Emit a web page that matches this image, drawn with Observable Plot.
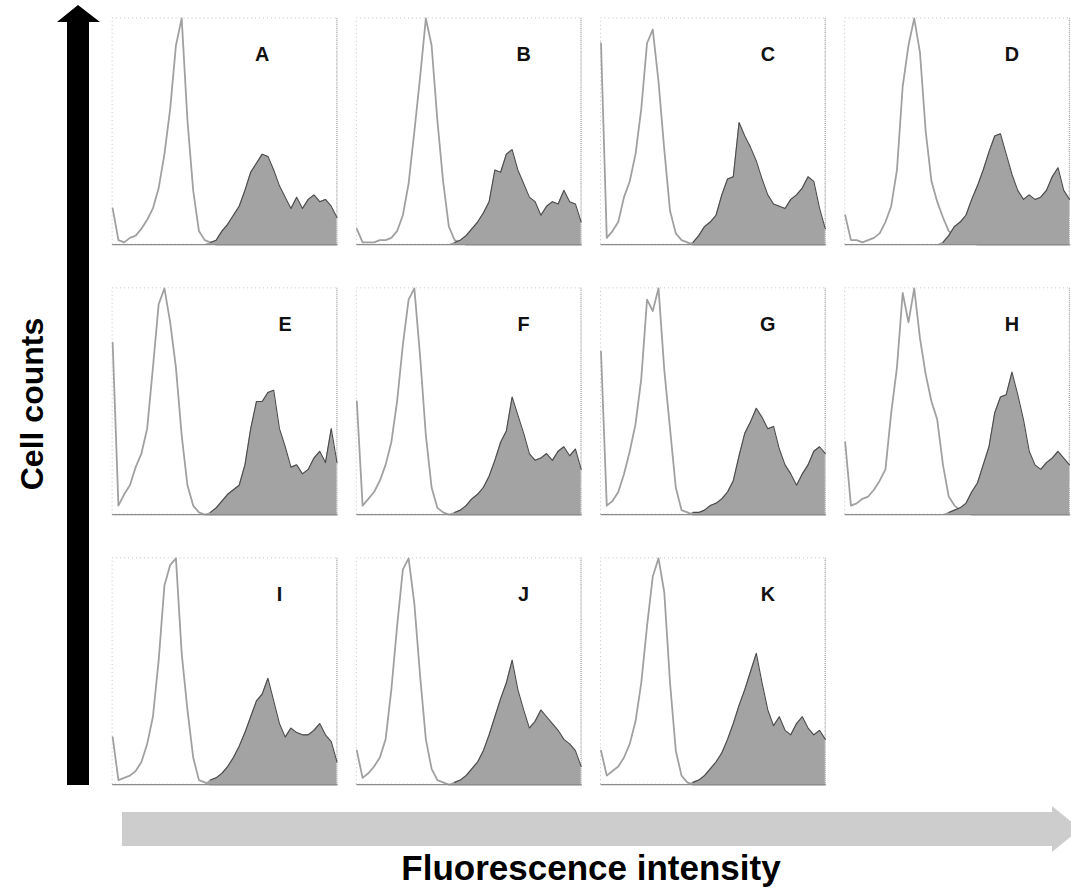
<!DOCTYPE html>
<html><head><meta charset="utf-8">
<script src="https://cdn.jsdelivr.net/npm/d3@7"></script>
<script src="https://cdn.jsdelivr.net/npm/@observablehq/plot@0.6"></script>
<style>
html,body{margin:0;padding:0;background:#fff;overflow:hidden;}
#wrap{position:relative;width:1071px;height:887px;overflow:hidden;background:#fff;}
#plot{position:absolute;left:0;top:0;}
#deco{position:absolute;left:0;top:0;}
</style></head><body>
<div id="wrap"><svg id="deco" width="1071" height="887"></svg><div id="plot"></div></div>
<script>
// Panel identity and grid placement
const panels   = ["A","B","C","D","E","F","G","H","I","J","K"];
const panelCol = [0,1,2,3,0,1,2,3,0,1,2];
const panelRow = [0,0,0,0,1,1,1,1,2,2,2];
// label x position (in bin units)
const labelBin = [26,29,29,29,30,29,29,29,29,29,29];

// Control (unstained, outline) histograms, 40 bins each, fraction of panel height
const controlA = [0.16,0.02,0.01,0.03,0.04,0.07,0.11,0.16,0.25,0.40, 0.60,0.88,1.00,0.55,0.24,0.06,0.02,0.01,0,0, 0,0,0,0,0,0,0,0,0,0, 0,0,0,0,0,0,0,0,0,0];
const controlB = [0.07,0.01,0.01,0.01,0.02,0.02,0.03,0.06,0.13,0.27, 0.50,0.74,1.00,0.88,0.55,0.28,0.08,0.02,0.01,0, 0,0,0,0,0,0,0,0,0,0, 0,0,0,0,0,0,0,0,0,0];
const controlC = [0.89,0.03,0.06,0.10,0.21,0.28,0.40,0.60,0.89,0.95, 0.72,0.42,0.15,0.05,0.02,0.01,0,0,0,0, 0,0,0,0,0,0,0,0,0,0, 0,0,0,0,0,0,0,0,0,0];
const controlD = [0.13,0.02,0.02,0.01,0.02,0.03,0.05,0.10,0.17,0.33, 0.70,0.88,1.00,0.85,0.50,0.28,0.19,0.12,0.06,0.04, 0.03,0.02,0.01,0,0,0,0,0,0,0, 0,0,0,0,0,0,0,0,0,0];
const controlE = [0.76,0.04,0.09,0.13,0.21,0.27,0.38,0.65,0.93,1.00, 0.85,0.65,0.35,0.13,0.04,0.01,0,0,0,0, 0,0,0,0,0,0,0,0,0,0, 0,0,0,0,0,0,0,0,0,0];
const controlF = [0.50,0.04,0.07,0.10,0.15,0.22,0.32,0.50,0.75,0.95, 1.00,0.70,0.35,0.12,0.03,0.01,0,0,0,0, 0,0,0,0,0,0,0,0,0,0, 0,0,0,0,0,0,0,0,0,0];
const controlG = [0.72,0.04,0.06,0.10,0.18,0.28,0.40,0.60,0.95,0.90, 1.00,0.64,0.38,0.12,0.02,0.01,0,0,0,0, 0,0,0,0,0,0,0,0,0,0, 0,0,0,0,0,0,0,0,0,0];
const controlH = [0.32,0.04,0.05,0.07,0.08,0.11,0.15,0.20,0.45,0.65, 0.98,0.85,1.00,0.78,0.62,0.50,0.42,0.22,0.08,0.04, 0.02,0.01,0,0,0,0,0,0,0,0, 0,0,0,0,0,0,0,0,0,0];
const controlI = [0.21,0.02,0.03,0.04,0.06,0.10,0.18,0.30,0.55,0.88, 0.97,1.00,0.58,0.33,0.12,0.02,0.01,0,0,0, 0,0,0,0,0,0,0,0,0,0, 0,0,0,0,0,0,0,0,0,0];
const controlJ = [0.15,0.03,0.05,0.08,0.12,0.20,0.42,0.70,0.95,1.00, 0.80,0.48,0.20,0.07,0.02,0.01,0,0,0,0, 0,0,0,0,0,0,0,0,0,0, 0,0,0,0,0,0,0,0,0,0];
const controlK = [0.15,0.04,0.06,0.08,0.12,0.18,0.28,0.45,0.70,0.92, 1.00,0.85,0.45,0.15,0.04,0.01,0,0,0,0, 0,0,0,0,0,0,0,0,0,0, 0,0,0,0,0,0,0,0,0,0];

// Stained (filled) histograms
const stainedA = [0,0,0,0,0,0,0,0,0,0, 0,0,0,0,0,0,0,0.01,0.02,0.06, 0.09,0.13,0.17,0.24,0.32,0.36,0.40,0.39,0.33,0.26, 0.21,0.16,0.21,0.16,0.20,0.22,0.19,0.20,0.17,0.12];
const stainedB = [0,0,0,0,0,0,0,0,0,0, 0,0,0,0,0,0,0,0.01,0.02,0.04, 0.07,0.10,0.14,0.19,0.33,0.32,0.40,0.42,0.33,0.27, 0.21,0.19,0.13,0.17,0.19,0.18,0.24,0.19,0.18,0.10];
const stainedC = [0,0,0,0,0,0,0,0,0,0, 0,0,0,0,0,0,0.01,0.04,0.08,0.10, 0.13,0.22,0.29,0.30,0.54,0.48,0.43,0.37,0.29,0.22, 0.18,0.17,0.16,0.20,0.22,0.25,0.30,0.28,0.16,0.07];
const stainedD = [0,0,0,0,0,0,0,0,0,0, 0,0,0,0,0,0,0,0.01,0.04,0.08, 0.10,0.13,0.20,0.26,0.33,0.41,0.48,0.49,0.40,0.31, 0.24,0.20,0.22,0.20,0.21,0.24,0.30,0.34,0.24,0.20];
const stainedE = [0,0,0,0,0,0,0,0,0,0, 0,0,0,0,0,0,0,0.01,0.03,0.06, 0.09,0.11,0.13,0.22,0.38,0.50,0.50,0.54,0.55,0.38, 0.30,0.21,0.22,0.18,0.20,0.25,0.28,0.23,0.38,0.23];
const stainedF = [0,0,0,0,0,0,0,0,0,0, 0,0,0,0,0,0,0,0.01,0.02,0.04, 0.07,0.09,0.12,0.17,0.24,0.32,0.37,0.52,0.44,0.36, 0.27,0.24,0.25,0.27,0.24,0.28,0.30,0.26,0.29,0.20];
const stainedG = [0,0,0,0,0,0,0,0,0,0, 0,0,0,0,0,0,0.01,0.01,0.02,0.04, 0.05,0.07,0.10,0.15,0.26,0.36,0.41,0.47,0.43,0.38, 0.39,0.29,0.22,0.18,0.13,0.18,0.22,0.28,0.30,0.27];
const stainedH = [0,0,0,0,0,0,0,0,0,0, 0,0,0,0,0,0,0,0,0.01,0.02, 0.03,0.05,0.10,0.14,0.22,0.30,0.45,0.52,0.53,0.63, 0.53,0.42,0.28,0.22,0.20,0.23,0.25,0.28,0.25,0.22];
const stainedI = [0,0,0,0,0,0,0,0,0,0, 0,0,0,0,0,0,0,0.02,0.03,0.05, 0.08,0.12,0.17,0.23,0.30,0.37,0.40,0.47,0.37,0.27, 0.21,0.25,0.23,0.22,0.22,0.24,0.27,0.22,0.19,0.10];
const stainedJ = [0,0,0,0,0,0,0,0,0,0, 0,0,0,0,0,0,0,0.01,0.02,0.04, 0.07,0.10,0.15,0.22,0.30,0.38,0.45,0.55,0.42,0.33, 0.25,0.28,0.33,0.30,0.27,0.24,0.20,0.18,0.15,0.08];
const stainedK = [0,0,0,0,0,0,0,0,0,0, 0,0,0,0,0,0,0.01,0.02,0.04,0.07, 0.10,0.14,0.20,0.27,0.35,0.42,0.50,0.58,0.45,0.33, 0.26,0.30,0.24,0.22,0.27,0.30,0.25,0.22,0.24,0.20];

const xLabel = "Fluorescence intensity";
const yLabel = "Cell counts";

const controls = [controlA,controlB,controlC,controlD,controlE,controlF,controlG,controlH,controlI,controlJ,controlK];
const stained  = [stainedA,stainedB,stainedC,stainedD,stainedE,stainedF,stainedG,stainedH,stainedI,stainedJ,stainedK];

const rows = [];
panels.forEach((p, i) => {
  controls[i].forEach((c, b) => rows.push({panel: p, col: panelCol[i], row: panelRow[i], bin: b, control: c, stained: stained[i][b]}));
});
const lastBin = controlA.length - 1;
const frames = panels.map((p, i) => ({panel: p, col: panelCol[i], row: panelRow[i], lo: 0, hi: lastBin, bottom: 0, top: 1}));
const labels = panels.map((p, i) => ({panel: p, col: panelCol[i], row: panelRow[i], bin: labelBin[i]}));

const font = "'Liberation Sans', Arial, Helvetica, sans-serif";

const chart = Plot.plot({
  width: 1079, height: 800,
  marginLeft: 112, marginRight: 0, marginTop: 18, marginBottom: 9,
  x: {domain: [0, lastBin], axis: null},
  y: {domain: [0, 1], axis: null},
  fx: {axis: null, paddingInner: 0.08, paddingOuter: 0},
  fy: {axis: null, paddingInner: 0.16, paddingOuter: 0},
  style: {background: "transparent", fontFamily: font},
  marks: [
    Plot.rect(frames, {x1: "lo", x2: "hi", y1: "bottom", y2: "top", fx: "col", fy: "row", fill: "none", stroke: "#c4c4c4", strokeDasharray: "1,3", strokeWidth: 1}),
    Plot.ruleX(frames, {x: "hi", fx: "col", fy: "row", stroke: "#a8a8a8", strokeDasharray: "1,1", strokeWidth: 1.2}),
    Plot.lineY(rows, {x: "bin", y: "control", fx: "col", fy: "row", stroke: "#a0a0a0", strokeWidth: 1.8}),
    Plot.areaY(rows, {x: "bin", y: "stained", fx: "col", fy: "row", fill: "#a3a3a3"}),
    Plot.lineY(rows, {x: "bin", y: d => d.stained > 0 ? d.stained : NaN, fx: "col", fy: "row", stroke: "#4a4a4a", strokeWidth: 1.1}),
    Plot.ruleY(frames, {y: "bottom", fx: "col", fy: "row", stroke: "#8c8c8c", strokeWidth: 1.3}),
    Plot.text(labels, {x: "bin", text: "panel", fx: "col", fy: "row", frameAnchor: "top", lineAnchor: "middle", dy: 37, fontSize: 20, fontWeight: "bold", fill: "#111"})
  ]
});
document.getElementById("plot").appendChild(chart);

// Decorations: axis arrows and their titles
const deco = d3.select("#deco");
deco.append("path")
  .attr("d", "M67,785 L67,22 L57,22 L78,5 L100,22 L89,22 L89,785 Z")
  .attr("fill", "#000");
deco.append("text")
  .attr("transform", "translate(43,404) rotate(-90)")
  .attr("text-anchor", "middle")
  .attr("font-family", font).attr("font-weight", "bold").attr("font-size", 32)
  .attr("fill", "#000").text(yLabel);
deco.append("path")
  .attr("d", "M122,812 L1052,812 L1052,806 L1080,829 L1052,852 L1052,846 L122,846 Z")
  .attr("fill", "#cdcdcd");
deco.append("text")
  .attr("x", 591).attr("y", 880)
  .attr("text-anchor", "middle")
  .attr("font-family", font).attr("font-weight", "bold").attr("font-size", 35)
  .attr("fill", "#000").text(xLabel);
</script>
</body></html>
